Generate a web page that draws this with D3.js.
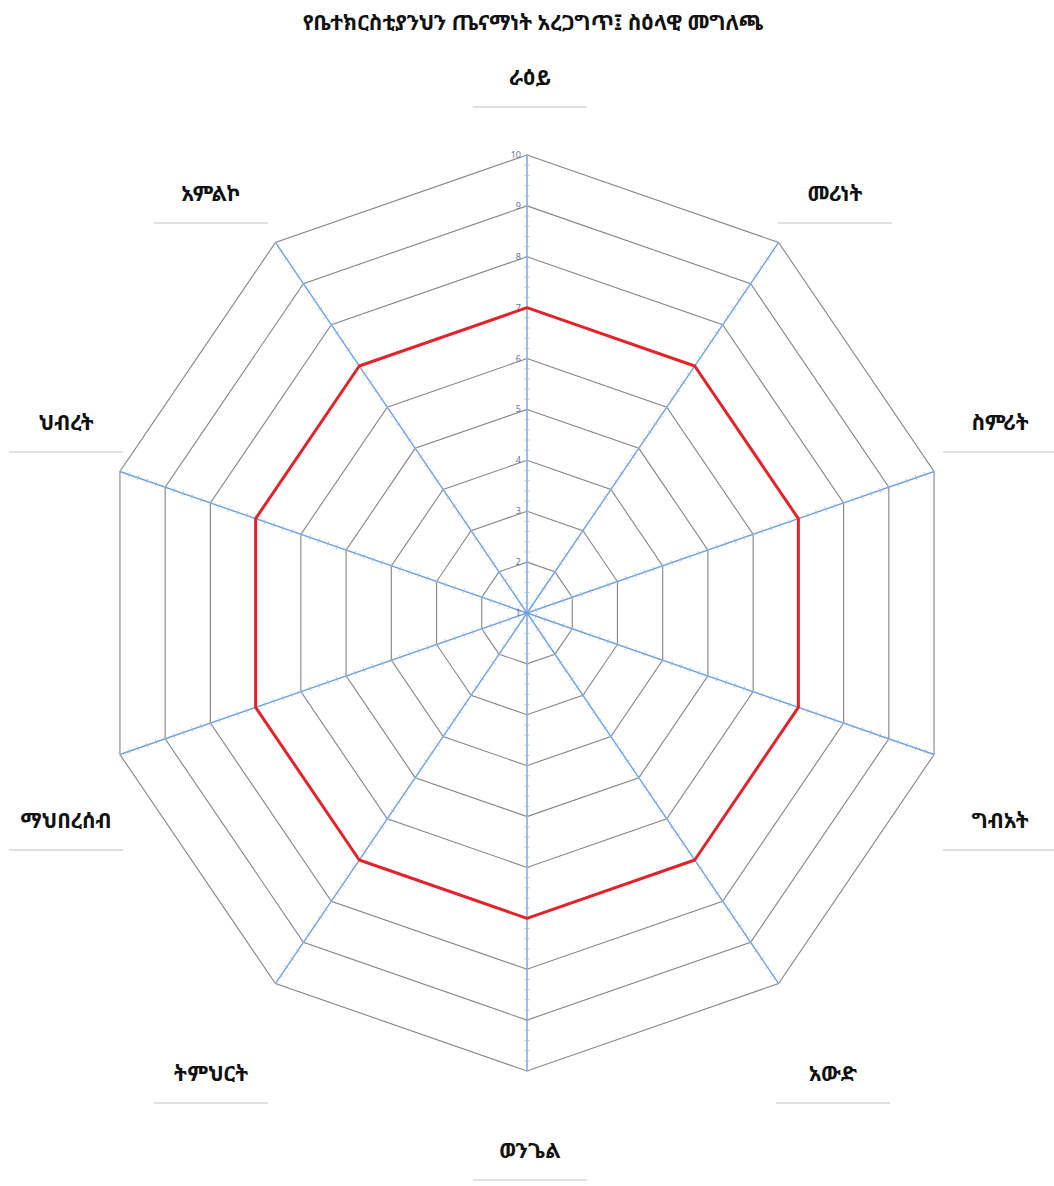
<!DOCTYPE html>
<html>
<head>
<meta charset="utf-8">
<script src="https://cdn.jsdelivr.net/npm/d3@7"></script>
<style>
  body { margin: 0; background: #fff; }
  text { font-family: "Noto Sans Ethiopic", "Abyssinica SIL", "DejaVu Sans", "Noto Sans", sans-serif; }
</style>
</head>
<body>
<div id="chart"></div>
<script>
// Chart data
const title = 'የቤተክርስቲያንህን ጤናማነት አረጋግጥ፤ ስዕላዊ መግለጫ';
const categories = ['ራዕይ', 'መሪነት', 'ስምሪት', 'ግብአት', 'አውድ', 'ወንጌል', 'ትምህርት', 'ማህበረሰብ', 'ህብረት', 'አምልኮ'];
const scores = [7, 7, 7, 7, 7, 7, 7, 7, 7, 7];
const tickValues = [1, 2, 3, 4, 5, 6, 7, 8, 9, 10];

// Layout
const W = 1054, H = 1186;
const cx = 527, cy = 613;
const rx = 428, ry = 458;   // plot area is slightly squashed horizontally

// label boxes sit around the plot (offset from centre, in px)
const labelOffsets = [
  [3, -536], [308, -420], [473, -191], [473, 207], [306, 460],
  [3, 537], [-316, 460], [-461, 207], [-461, -191], [-316, -420]
];

const svg = d3.select('#chart').append('svg')
  .attr('width', W)
  .attr('height', H);

const r = d3.scaleLinear().domain([1, 10]).range([0, 1]);
const angle = i => i * 2 * Math.PI / categories.length;

function pt(i, v) {
  const a = angle(i);
  return [cx + rx * r(v) * Math.sin(a), cy - ry * r(v) * Math.cos(a)];
}

// Title
svg.append('text')
  .attr('x', 533)
  .attr('y', 30)
  .attr('text-anchor', 'middle')
  .attr('font-size', 21)
  .attr('font-weight', 'bold')
  .attr('fill', '#111')
  .text(title);

// Grid rings
const line = d3.line().curve(d3.curveLinearClosed);
tickValues.slice(1).forEach(v => {
  svg.append('path')
    .attr('d', line(categories.map((c, i) => pt(i, v))))
    .attr('fill', 'none')
    .attr('stroke', '#858585')
    .attr('stroke-width', 1.1);
});

// Spokes
categories.forEach((c, i) => {
  const [x, y] = pt(i, 10);
  svg.append('line')
    .attr('x1', cx).attr('y1', cy)
    .attr('x2', x).attr('y2', y)
    .attr('stroke', '#72a2da')
    .attr('stroke-width', 1.4);

  // minor tick marks along the spoke
  const a = angle(i);
  const ux = rx * Math.sin(a), uy = -ry * Math.cos(a);
  const len = Math.hypot(ux, uy);
  const nx = -uy / len * 2.5, ny = ux / len * 2.5;
  d3.range(1.2, 10.01, 0.2).forEach(v => {
    const [px, py] = pt(i, v);
    svg.append('line')
      .attr('x1', px - nx).attr('y1', py - ny)
      .attr('x2', px + nx).attr('y2', py + ny)
      .attr('stroke', '#9cbde6')
      .attr('stroke-width', 0.8);
  });
});

// Value axis labels (on the top spoke)
tickValues.forEach(v => {
  const [x, y] = pt(0, v);
  svg.append('text')
    .attr('x', x - 6)
    .attr('y', y + 3)
    .attr('text-anchor', 'end')
    .attr('font-size', 9)
    .attr('fill', '#5f7699')
    .text(v);
});

// Score series
svg.append('path')
  .attr('d', line(scores.map((s, i) => pt(i, s))))
  .attr('fill', 'none')
  .attr('stroke', '#e3232c')
  .attr('stroke-width', 3)
  .attr('stroke-linejoin', 'round');

// Category labels with the grey rule underneath
categories.forEach((c, i) => {
  const [dx, dy] = labelOffsets[i];
  const x = cx + dx, y = cy + dy;
  svg.append('text')
    .attr('x', x)
    .attr('y', y + 8)
    .attr('text-anchor', 'middle')
    .attr('font-size', 21)
    .attr('font-weight', 'bold')
    .attr('fill', '#111')
    .text(c);
  svg.append('line')
    .attr('x1', x - 57).attr('x2', x + 57)
    .attr('y1', y + 30).attr('y2', y + 30)
    .attr('stroke', '#d6d6d6')
    .attr('stroke-width', 1.5);
});
</script>
</body>
</html>
